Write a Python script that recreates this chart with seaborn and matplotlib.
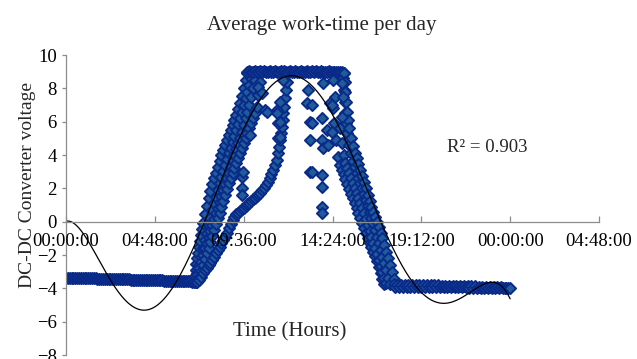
import numpy as np
import pandas as pd
import matplotlib
matplotlib.use("Agg")
import matplotlib.pyplot as plt
import seaborn as sns

# ---- converter voltage readings: time of day (hours) and volts ----
# night, before sunrise
night_am_hour = [0.0, 0.1, 0.2, 0.3, 0.4, 0.5, 0.6, 0.7, 0.8, 0.9,
                 1.0, 1.1, 1.2, 1.3, 1.4, 1.5, 1.6, 1.7, 1.8, 1.9,
                 2.0, 2.1, 2.2, 2.3, 2.4, 2.5, 2.6, 2.7, 2.8, 2.9,
                 3.0, 3.1, 3.2, 3.3, 3.4, 3.5, 3.6, 3.7, 3.8, 3.9,
                 4.0, 4.1, 4.2, 4.3, 4.4, 4.5, 4.6, 4.7, 4.8, 4.9,
                 5.0, 5.1, 5.2, 5.3, 5.4, 5.5, 5.6, 5.7, 5.8, 5.9,
                 6.0, 6.1, 6.2, 6.3, 6.4, 6.5, 6.6, 6.7, 6.8, 6.9, 7.0]
night_am_volt = [-3.35, -3.35, -3.36, -3.36, -3.36, -3.37, -3.37, -3.37, -3.38, -3.38,
                 -3.38, -3.39, -3.39, -3.39, -3.40, -3.40, -3.40, -3.41, -3.41, -3.41,
                 -3.42, -3.42, -3.42, -3.43, -3.43, -3.43, -3.44, -3.44, -3.44, -3.45,
                 -3.45, -3.45, -3.46, -3.46, -3.46, -3.47, -3.47, -3.47, -3.48, -3.48,
                 -3.48, -3.49, -3.49, -3.49, -3.50, -3.50, -3.50, -3.51, -3.51, -3.51,
                 -3.52, -3.52, -3.52, -3.53, -3.53, -3.54, -3.54, -3.54, -3.55, -3.55,
                 -3.55, -3.56, -3.56, -3.57, -3.57, -3.57, -3.58, -3.58, -3.59, -3.59, -3.60]

# morning ramps, clear days
rise_a_hour = [6.90, 6.95, 7.00, 7.05, 7.10, 7.15, 7.20, 7.25, 7.30, 7.35, 7.40,
               7.5, 7.6, 7.7, 7.8, 7.9, 8.0, 8.1, 8.2, 8.3, 8.4, 8.5, 8.6,
               8.7, 8.8, 8.9, 9.0, 9.1, 9.2, 9.3, 9.4, 9.5, 9.6, 9.7, 9.8]
rise_a_volt = [-3.55, -3.25, -2.90, -2.55, -2.2, -1.85, -1.5, -1.15, -0.8, -0.45, -0.1,
               0.45, 0.95, 1.4, 1.85, 2.25, 2.6, 2.95, 3.3, 3.65, 4.0, 4.3, 4.6,
               4.9, 5.2, 5.5, 5.8, 6.1, 6.4, 6.75, 7.1, 7.55, 8.0, 8.5, 8.95]
rise_b_hour = [7.0, 7.1, 7.2, 7.3, 7.4, 7.5, 7.6, 7.7, 7.8, 7.9, 8.0, 8.1, 8.2, 8.3, 8.4, 8.5,
               8.6, 8.7, 8.8, 8.9, 9.0, 9.1, 9.2, 9.3, 9.4, 9.5, 9.6, 9.7, 9.8, 9.9, 10.0, 10.1]
rise_b_volt = [-3.6, -3.1, -2.6, -2.1, -1.6, -1.1, -0.65, -0.2, 0.25, 0.7, 1.1, 1.5, 1.9, 2.3,
               2.7, 3.05, 3.4, 3.75, 4.1, 4.45, 4.8, 5.15, 5.5, 5.85, 6.2, 6.6, 7.0, 7.4, 7.8,
               8.2, 8.6, 9.0]
rise_d_hour = [7.0, 7.1, 7.2, 7.3, 7.4, 7.5, 7.6, 7.7, 7.8, 7.9, 8.0, 8.1, 8.2, 8.3, 8.4, 8.5,
               8.6, 8.7, 8.8, 8.9, 9.0, 9.1, 9.2, 9.3, 9.4, 9.5, 9.6, 9.7, 9.8, 9.9, 10.0,
               10.1, 10.2, 10.3]
rise_d_volt = [-3.6, -3.2, -2.8, -2.4, -2.0, -1.6, -1.25, -0.9, -0.55, -0.2, 0.15, 0.5, 0.85,
               1.2, 1.55, 1.9, 2.25, 2.6, 2.95, 3.3, 3.65, 4.0, 4.35, 4.7, 5.05, 5.4, 5.8, 6.2,
               6.6, 7.0, 7.5, 8.0, 8.5, 9.0]
rise_c_hour = [7.1, 7.2, 7.3, 7.4, 7.5, 7.6, 7.7, 7.8, 7.9, 8.0, 8.1, 8.2, 8.3, 8.4, 8.5, 8.6,
               8.7, 8.8, 8.9, 9.0, 9.1, 9.2, 9.3, 9.4, 9.5, 9.6, 9.7, 9.8, 9.9, 10.0, 10.1,
               10.2, 10.3, 10.4, 10.5, 10.6]
rise_c_volt = [-3.6, -3.3, -2.95, -2.6, -2.25, -1.9, -1.55, -1.2, -0.85, -0.5, -0.15, 0.2,
               0.55, 0.9, 1.25, 1.6, 1.95, 2.3, 2.6, 2.9, 3.2, 3.5, 3.8, 4.1, 4.4, 4.7, 5.0,
               5.3, 5.6, 5.9, 6.2, 6.5, 6.9, 7.6, 8.4, 9.0]

# morning ramp, overcast day
rise_slow_hour = [7.2, 7.3, 7.4, 7.5, 7.6, 7.7, 7.8, 7.9, 8.0, 8.1,
                  8.2, 8.3, 8.4, 8.5, 8.6, 8.7, 8.8, 8.9, 9.0, 9.1,
                  9.2, 9.3, 9.4, 9.5, 9.6, 9.7, 9.8, 9.9, 10.0, 10.1,
                  10.2, 10.3, 10.4, 10.5, 10.6, 10.7, 10.8, 10.9, 11.0, 11.1,
                  11.2, 11.3, 11.4, 11.45, 11.5, 11.55, 11.6, 11.65, 11.7, 11.75,
                  11.8, 11.85, 11.9, 11.95, 12.0]
rise_slow_volt = [-3.5, -3.3, -3.1, -2.9, -2.75, -2.6, -2.45, -2.3, -2.1, -1.9,
                  -1.7, -1.5, -1.3, -1.1, -0.9, -0.65, -0.4, -0.15, 0.1, 0.3,
                  0.45, 0.55, 0.65, 0.75, 0.85, 0.95, 1.05, 1.15, 1.25, 1.35,
                  1.45, 1.55, 1.65, 1.75, 1.9, 2.05, 2.2, 2.4, 2.6, 2.85,
                  3.1, 3.4, 3.7, 4.1, 4.5, 4.9, 5.3, 5.7, 6.1, 6.5,
                  6.9, 7.4, 7.9, 8.4, 8.9]

# regulated plateau
plateau_hour = [9.8, 9.9, 10.0, 10.1, 10.2, 10.3, 10.4, 10.5, 10.6, 10.7,
                10.8, 10.9, 11.0, 11.1, 11.2, 11.3, 11.4, 11.5, 11.6, 11.7,
                11.8, 11.9, 12.0, 12.1, 12.2, 12.3, 12.4, 12.5, 12.6, 12.7,
                12.8, 12.9, 13.0, 13.1, 13.2, 13.3, 13.4, 13.5, 13.6, 13.7,
                13.8, 13.9, 14.0, 14.1, 14.2, 14.3, 14.4, 14.5, 14.6, 14.7,
                14.8, 14.9, 15.0]
plateau_volt = [8.98, 9.02, 9.0, 8.97, 9.03, 9.0, 8.99, 9.02, 8.98, 9.01,
                9.0, 8.97, 9.02, 9.0, 8.98, 9.03, 9.0, 8.99, 9.01, 8.98,
                9.02, 9.0, 8.97, 9.01, 9.0, 8.98, 9.02, 9.0, 8.99, 9.01,
                8.98, 9.0, 9.02, 8.97, 9.0, 9.01, 8.99, 9.02, 9.0, 8.98,
                9.01, 8.99, 9.0, 8.97, 9.02, 9.0, 8.98, 9.0, 8.99, 8.97,
                8.98, 8.96, 8.95]

# evening ramps
fall_a_hour = [14.4, 14.5, 14.6, 14.7, 14.8, 14.9, 15.0, 15.1, 15.2, 15.3,
               15.4, 15.5, 15.6, 15.7, 15.8, 15.9, 16.0, 16.1, 16.2, 16.3,
               16.4, 16.5, 16.6, 16.7, 16.8, 16.9, 17.0, 17.1, 17.2]
fall_a_volt = [6.8, 5.9, 4.9, 3.9, 3.4, 3.1, 2.85, 2.55, 2.25, 1.95,
               1.65, 1.4, 1.15, 0.85, 0.55, 0.25, -0.05, -0.35, -0.65, -0.95,
               -1.25, -1.5, -1.8, -2.05, -2.35, -2.7, -3.05, -3.45, -3.75]
fall_d_hour = [14.8, 14.9, 15.0, 15.1, 15.2, 15.3, 15.4, 15.5, 15.6, 15.7,
               15.8, 15.9, 16.0, 16.1, 16.2, 16.3, 16.4, 16.5, 16.6, 16.7,
               16.8, 16.9, 17.0, 17.1, 17.2, 17.3]
fall_d_volt = [5.6, 4.7, 4.0, 3.55, 3.2, 2.9, 2.6, 2.3, 2.0, 1.7,
               1.4, 1.1, 0.8, 0.5, 0.15, -0.2, -0.55, -0.9, -1.25, -1.6,
               -1.95, -2.3, -2.65, -3.0, -3.35, -3.7]
fall_b_hour = [14.95, 15.0, 15.05, 15.1, 15.15, 15.2, 15.3, 15.4, 15.5, 15.6,
               15.7, 15.8, 15.9, 16.0, 16.1, 16.2, 16.3, 16.4, 16.5, 16.6,
               16.7, 16.8, 16.9, 17.0, 17.1, 17.2, 17.3, 17.4, 17.5]
fall_b_volt = [8.6, 7.9, 7.2, 6.5, 5.9, 5.3, 4.6, 4.1, 3.65, 3.3,
               2.95, 2.6, 2.3, 2.0, 1.65, 1.3, 0.95, 0.6, 0.25, -0.1,
               -0.5, -0.9, -1.3, -1.7, -2.1, -2.5, -2.9, -3.35, -3.75]
fall_c_hour = [15.0, 15.05, 15.1, 15.15, 15.2, 15.25, 15.3, 15.4, 15.5, 15.6,
               15.7, 15.8, 15.9, 16.0, 16.1, 16.2, 16.3, 16.4, 16.5, 16.6,
               16.7, 16.8, 16.9, 17.0, 17.1, 17.2, 17.3, 17.4, 17.5, 17.6,
               17.7, 17.8]
fall_c_volt = [8.95, 8.4, 7.8, 7.2, 6.6, 6.1, 5.6, 5.0, 4.55, 4.15,
               3.8, 3.45, 3.1, 2.75, 2.4, 2.0, 1.6, 1.25, 0.9, 0.6,
               0.3, 0.0, -0.3, -0.65, -1.0, -1.4, -1.8, -2.2, -2.6, -3.0,
               -3.45, -3.8]

# night, after sunset
night_pm_hour = [17.7, 17.8, 17.9, 18.0, 18.1, 18.2, 18.3, 18.4, 18.5, 18.6,
                 18.7, 18.8, 18.9, 19.0, 19.1, 19.2, 19.3, 19.4, 19.5, 19.6,
                 19.7, 19.8, 19.9, 20.0, 20.1, 20.2, 20.3, 20.4, 20.5, 20.6,
                 20.7, 20.8, 20.9, 21.0, 21.1, 21.2, 21.3, 21.4, 21.5, 21.6,
                 21.7, 21.8, 21.9, 22.0, 22.1, 22.2, 22.3, 22.4, 22.5, 22.6,
                 22.7, 22.8, 22.9, 23.0, 23.1, 23.2, 23.3, 23.4, 23.5, 23.6,
                 23.7, 23.8, 23.9, 24.0]
night_pm_volt = [-3.76, -3.90, -3.77, -3.89, -3.77, -3.90, -3.78, -3.89, -3.78, -3.90,
                 -3.79, -3.90, -3.79, -3.91, -3.80, -3.90, -3.80, -3.91, -3.81, -3.91,
                 -3.81, -3.92, -3.82, -3.91, -3.82, -3.92, -3.83, -3.92, -3.83, -3.93,
                 -3.84, -3.93, -3.84, -3.93, -3.85, -3.94, -3.86, -3.94, -3.86, -3.94,
                 -3.87, -3.95, -3.88, -3.95, -3.88, -3.95, -3.89, -3.96, -3.90, -3.96,
                 -3.91, -3.96, -3.92, -3.96, -3.93, -3.97, -3.93, -3.97, -3.94, -3.97,
                 -3.95, -3.96, -3.95, -3.95]

# dips from passing clouds
cloud_hour = [9.51, 9.51, 9.51, 9.57, 9.95, 10.38, 10.59, 10.76, 10.85, 11.4, 11.4, 11.46, 11.46,
              11.57, 11.57, 11.57, 11.73, 13.03, 13.08, 13.19, 13.3, 13.19, 13.3, 13.19, 13.3,
              13.84, 13.84, 13.84, 13.84, 13.84, 13.84, 13.89, 14.16, 13.89, 14.43, 14.54, 14.27,
              14.11, 14.38, 14.38, 14.92, 14.97, 14.92]
cloud_volt = [2.7, 2.0, 1.6, 3.0, 5.2, 8.1, 7.7, 6.7, 6.6, 6.7, 6.5, 5.9, 5.0, 7.2, 6.0, 5.1, 8.5,
              7.1, 7.9, 4.9, 7.0, 6.0, 5.9, 3.0, 3.0, 2.8, 2.1, 0.9, 0.5, 6.2, 4.9, 4.4, 4.6, 8.3,
              8.5, 7.5, 7.1, 5.5, 5.4, 7.0, 8.3, 7.5, 6.3]

trend_hour = [0.0, 2.38, 4.18, 6.17, 6.7, 7.46, 8.5, 9.4, 10.3, 11.4, 12.2, 12.8, 13.9, 14.4,
              15.2, 15.9, 16.8, 17.5, 18.05, 18.8, 20.4, 21.7, 22.9, 23.6, 24.0]
trend_volt = [0.0, -3.35, -5.4, -3.35, -2.1, 0.0, 3.1, 5.1, 6.9, 8.5, 8.75, 8.5, 7.3, 6.3, 4.5,
              2.9, 0.9, -1.1, -2.5, -3.9, -4.85, -4.5, -3.5, -3.9, -4.7]
r_squared = 0.903

tick_hours = [0.0, 4.8, 9.6, 14.4, 19.2, 24.0, 28.8]
tick_labels = ["00:00:00", "04:48:00", "09:36:00", "14:24:00", "19:12:00", "00:00:00", "04:48:00"]

segments = [
    (night_am_hour, night_am_volt), (rise_a_hour, rise_a_volt), (rise_b_hour, rise_b_volt),
    (rise_d_hour, rise_d_volt), (rise_c_hour, rise_c_volt), (rise_slow_hour, rise_slow_volt),
    (plateau_hour, plateau_volt), (fall_a_hour, fall_a_volt), (fall_d_hour, fall_d_volt),
    (fall_b_hour, fall_b_volt), (fall_c_hour, fall_c_volt), (night_pm_hour, night_pm_volt),
    (cloud_hour, cloud_volt),
]
readings = pd.concat([pd.DataFrame({"hour": h, "volt": v}) for h, v in segments],
                     ignore_index=True)

fit = np.polynomial.Polynomial.fit(trend_hour, trend_volt, 6)
grid = np.linspace(0.0, 24.0, 400)
trend = pd.DataFrame({"hour": grid, "volt": fit(grid)})

sns.set_theme(style="ticks")
plt.rcParams["font.family"] = ["Liberation Serif", "DejaVu Serif"]
axis_grey = "#8c8c8c"

fig = plt.figure(figsize=(6.37, 3.59), dpi=100)
ax = fig.add_axes([66 / 637, 4 / 359, 533 / 637, 300 / 359])

sns.scatterplot(data=readings, x="hour", y="volt", marker="D", s=32, color="#1F5C99",
                edgecolor="#0A2A8A", linewidth=1.4, ax=ax, legend=False, zorder=1)
sns.lineplot(data=trend, x="hour", y="volt", color="black", linewidth=0.9, ax=ax, zorder=2)

ax.set_xlim(0, 28.8)
ax.set_ylim(-8, 10)
ax.set_xticks(tick_hours)
ax.set_xticklabels(tick_labels)
ax.set_yticks(range(-8, 11, 2))
ax.set_xlabel("")
ax.set_ylabel("")
# time labels sit on top of the markers
ax.set_axisbelow(False)

for side in ("top", "right"):
    ax.spines[side].set_visible(False)
ax.spines["bottom"].set_position(("data", 0))
for side in ("left", "bottom"):
    ax.spines[side].set_color(axis_grey)
    ax.spines[side].set_linewidth(0.9)

ax.tick_params(axis="x", direction="in", length=4, width=0.9, color=axis_grey, pad=8,
               labelsize=13.5, labelcolor="black")
ax.tick_params(axis="y", direction="out", length=3, width=0.9, color=axis_grey, pad=3.5,
               labelsize=13.5, labelcolor="black")

fig.text(0.505, 0.93, "Average work-time per day", ha="center", va="center", fontsize=15)
fig.text(0.0424, 0.4833, "DC-DC Converter voltage", rotation=90, ha="center", va="center",
         fontsize=14)
fig.text(0.4545, 0.075, "Time (Hours)", ha="center", va="center", fontsize=15)
fig.text(0.765, 0.5905, f"R\u00b2 = {r_squared:.3f}", ha="center", va="center", fontsize=13.5)

fig.savefig("out.png", dpi=100, facecolor="white")
